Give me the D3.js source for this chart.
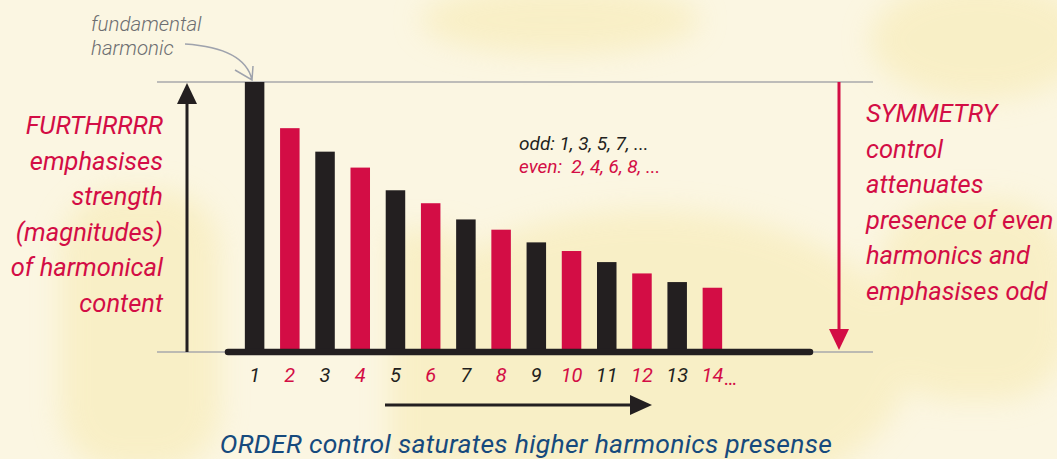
<!DOCTYPE html>
<html>
<head>
<meta charset="utf-8">
<script src="https://cdn.jsdelivr.net/npm/d3@7"></script>
<style>
  html, body { margin: 0; padding: 0; background: #fbf6e2; }
  svg { display: block; }
  text { font-family: Roboto, "Open Sans", sans-serif; font-style: italic; white-space: pre; }
</style>
</head>
<body>
<div id="chart-container"></div>
<script>
// harmonic orders and their (relative) magnitudes
const harmonics = [1, 2, 3, 4, 5, 6, 7, 8, 9, 10, 11, 12, 13, 14];
const magnitudes = [1.0, 0.829, 0.742, 0.683, 0.599, 0.551, 0.491, 0.453, 0.406, 0.374, 0.333, 0.291, 0.259, 0.238];
const leftLines = ["FURTHRRRR", "emphasises", "strength", "(magnitudes)", "of harmonical", "content"];
const rightLines = ["SYMMETRY", "control", "attenuates", "presence of even", "harmonics and", "emphasises odd"];
const noteOdd = "odd: 1, 3, 5, 7, ...";
const noteEven = "even:  2, 4, 6, 8, ...";
const title = "ORDER control saturates higher harmonics presense";

const width = 1057, height = 459;
const red = "#d30d45", dark = "#231f20", grey = "#a9a9ab", blue = "#164a7d";

const svg = d3.select("#chart-container").append("svg")
  .attr("width", width).attr("height", height);

// faint background blobs
const defs = svg.append("defs");
defs.append("filter").attr("id", "blur")
  .append("feGaussianBlur").attr("stdDeviation", 14);
const bg = svg.append("g").attr("filter", "url(#blur)").attr("fill", "#f8edbd").attr("opacity", 0.75);
bg.append("ellipse").attr("cx", 560).attr("cy", 20).attr("rx", 140).attr("ry", 35);
bg.append("ellipse").attr("cx", 980).attr("cy", 40).attr("rx", 110).attr("ry", 60);
bg.append("ellipse").attr("cx", 650).attr("cy", 360).attr("rx", 260).attr("ry", 150);
bg.append("rect").attr("x", 60).attr("y", 190).attr("width", 160).attr("height", 280).attr("rx", 60);
bg.append("rect").attr("x", 880).attr("y", 200).attr("width", 190).attr("height", 200).attr("rx", 70);
bg.append("rect").attr("x", 390).attr("y", 230).attr("width", 70).attr("height", 240);

// scales
const x = d3.scaleBand()
  .domain(harmonics)
  .range([237, 730])
  .paddingInner(0.446)
  .paddingOuter(0.223);

const y = d3.scaleLinear()
  .domain([0, 1])
  .range([352, 82]);

const colour = d => d % 2 === 1 ? dark : red;

// grey reference lines at top and bottom
svg.append("g").selectAll("line")
  .data([1, 0])
  .join("line")
  .attr("x1", 157).attr("x2", 873)
  .attr("y1", d => y(d)).attr("y2", d => y(d))
  .attr("stroke", grey).attr("stroke-width", 1.5);

// bars
svg.append("g").selectAll("rect")
  .data(harmonics)
  .join("rect")
  .attr("x", d => x(d))
  .attr("width", x.bandwidth())
  .attr("y", (d, i) => y(magnitudes[i]))
  .attr("height", (d, i) => y(0) - y(magnitudes[i]))
  .attr("fill", colour);

// thick baseline
svg.append("line")
  .attr("x1", 228).attr("x2", 810)
  .attr("y1", y(0)).attr("y2", y(0))
  .attr("stroke", dark).attr("stroke-width", 6.5)
  .attr("stroke-linecap", "round");

// x axis labels
const xAxis = svg.append("g")
  .attr("transform", `translate(0, ${y(0) + 4})`)
  .call(d3.axisBottom(x).tickSize(0).tickPadding(12));
xAxis.select(".domain").remove();
xAxis.selectAll("text")
  .attr("font-family", "Roboto, sans-serif")
  .attr("font-size", 20)
  .attr("fill", d => colour(d));
svg.append("text")
  .attr("x", x(14) + x.bandwidth() / 2 + 12)
  .attr("y", 385)
  .attr("font-size", 20)
  .attr("fill", red)
  .text("…");

// arrow helper
function arrow(x1, y1, x2, y2, col, head) {
  const ang = Math.atan2(y2 - y1, x2 - x1);
  const bx = x2 - head * Math.cos(ang), by = y2 - head * Math.sin(ang);
  svg.append("line")
    .attr("x1", x1).attr("y1", y1).attr("x2", bx).attr("y2", by)
    .attr("stroke", col).attr("stroke-width", 3);
  const w = 10;
  const px = -Math.sin(ang) * w, py = Math.cos(ang) * w;
  svg.append("path")
    .attr("d", `M${x2},${y2}L${bx + px},${by + py}L${bx - px},${by - py}Z`)
    .attr("fill", col);
}
arrow(187, 352, 187, 83, dark, 21);  // magnitude
arrow(839, 82, 839, 350, red, 21);   // symmetry
arrow(385, 405, 652, 405, dark, 22); // order

// left annotation
svg.append("g").selectAll("text")
  .data(leftLines)
  .join("text")
  .attr("x", 163)
  .attr("y", (d, i) => 134 + i * 35.5)
  .attr("text-anchor", "end")
  .attr("font-size", 25.5)
  .attr("fill", red)
  .text(d => d);

// right annotation
svg.append("g").selectAll("text")
  .data(rightLines)
  .join("text")
  .attr("x", 866)
  .attr("y", (d, i) => 122 + i * 35.6)
  .attr("font-size", 25.5)
  .attr("fill", red)
  .text(d => d);

// odd / even note
svg.append("text").attr("x", 519).attr("y", 150)
  .attr("font-size", 19).attr("fill", dark).text(noteOdd);
svg.append("text").attr("x", 519).attr("y", 173)
  .attr("font-size", 19).attr("fill", red).text(noteEven);

// fundamental harmonic callout
svg.append("text").attr("x", 91).attr("y", 31)
  .attr("font-size", 20.5).attr("font-weight", 300).attr("fill", "#6d6e71").text("fundamental");
svg.append("text").attr("x", 91).attr("y", 55)
  .attr("font-size", 20.5).attr("font-weight", 300).attr("fill", "#6d6e71").text("harmonic");
svg.append("path")
  .attr("d", "M185,44 Q245,48 252,80 M235,70 L252,80 L253,66")
  .attr("fill", "none").attr("stroke", "#9fa3ad").attr("stroke-width", 1.5);

// bottom title
svg.append("text")
  .attr("x", 526).attr("y", 453)
  .attr("text-anchor", "middle")
  .attr("font-size", 26.5)
  .attr("letter-spacing", 0.3)
  .attr("fill", blue)
  .text(title);
</script>
</body>
</html>
